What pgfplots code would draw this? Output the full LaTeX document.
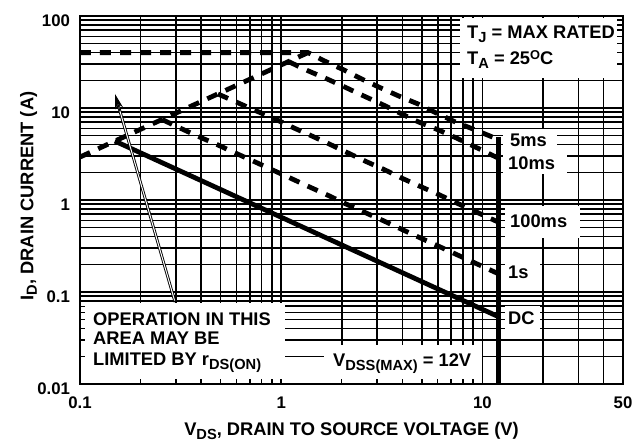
\documentclass[border=0pt]{standalone}
\usepackage{graphicx}
\usepackage{pgfplots}
\pgfplotsset{compat=1.18}
\usepackage{fontspec}
\setmainfont{Liberation Sans}
\usetikzlibrary{arrows.meta,calc}
\newcommand{\sub}[1]{\raisebox{-3.5pt}{\scalebox{0.8}{#1}}}
\newcommand{\sups}[1]{\raisebox{5pt}{\scalebox{0.7}{#1}}}
\newcommand{\lbl}{\fontsize{18.3}{20}\selectfont\bfseries}
\begin{document}
\begin{tikzpicture}[x=1pt,y=1pt]
\useasboundingbox (0,0) rectangle (636,443);
% ---------- grid and curves ----------
\begin{axis}[xmode=log, ymode=log,
    scale only axis, width=543pt, height=368pt,
    at={(80pt,59pt)}, anchor=south west,
    xmin=0.1, xmax=50, ymin=0.01, ymax=100,
    xtick={0.1,1,10,50}, ytick={0.01,0.1,1,10,100},
    minor xtick={0.2,0.3,0.4,0.5,0.6,0.7,0.8,0.9,2,3,4,5,6,7,8,9,20,30,40},
    minor ytick={0.02,0.03,0.04,0.05,0.06,0.07,0.08,0.09,0.2,0.3,0.4,0.5,0.6,0.7,0.8,0.9,2,3,4,5,6,7,8,9,20,30,40,50,60,70,80,90},
    tick pos=left,
  grid=both,
  major grid style={black, line width=1.6pt},
  minor grid style={black, line width=1.6pt},
  xticklabels={}, yticklabels={},
  major tick length=0pt, minor tick length=0pt,
  axis line style={black, line width=2pt},
]
% rDS(on) limit
\addplot[black, line width=4.8pt, dash pattern=on 11pt off 9pt] coordinates {(0.1,2.93) (1.36,40)};
% 5 ms
\addplot[black, line width=4.8pt, dash pattern=on 11pt off 9pt] coordinates {
 (0.1,40) (1.36,40) (1.63,32.7) (2.05,25.9) (2.52,20.6) (3.13,16.5) (3.84,13.5)
 (4.82,11.0) (5.92,8.8) (7.34,7.05) (9.22,5.77) (12,4.55)};
% 10 ms
\addplot[black, line width=4.8pt, dash pattern=on 11pt off 9pt] coordinates {
 (1.09,31.9) (1.33,25.9) (1.65,21.2) (2.07,16.9) (2.52,13.8) (3.16,11.0) (3.88,8.83)
 (4.82,7.05) (6.05,5.77) (7.43,4.72) (9.22,3.77) (12,2.85)};
% 100 ms
\addplot[black, line width=4.8pt, dash pattern=on 11pt off 9pt] coordinates {
 (0.485,14.2) (0.598,11.6) (0.734,9.5) (0.912,7.78) (1.13,6.21) (1.41,5.0) (1.69,4.17)
 (2.64,2.62) (3.24,2.15) (3.97,1.73) (4.93,1.40) (6.05,1.15) (7.43,0.93) (9.22,0.75) (12,0.575)};
% 1 s
\addplot[black, line width=4.8pt, dash pattern=on 11pt off 9pt] coordinates {
 (0.256,7.5) (0.302,6.3) (0.393,4.84) (0.477,4.03) (0.592,3.24) (0.734,2.62) (0.902,2.13)
 (1.13,1.70) (1.41,1.36) (1.73,1.11) (2.10,0.905) (2.64,0.723) (3.24,0.592) (3.97,0.48)
 (4.93,0.386) (6.05,0.315) (7.43,0.256) (9.22,0.206) (12,0.158)};
% DC
\addplot[black, line width=4.8pt] coordinates {(0.149,4.37) (12,0.054)};
% VDSS limit
\addplot[black, line width=5pt] coordinates {(12,0.01) (12,4.8)};
\end{axis}
% ---------- arrow ----------
\draw[black, line width=2.8pt, shorten >=10pt] (175,141) -- (115,349);
\draw[white, line width=1.0pt, shorten >=10pt, shorten <=1.5pt] (175,141) -- (115,349);
\draw[black, line width=1pt, -{Stealth[length=15pt, width=8pt]}] ($(115,349)!18pt!(175,141)$) -- (115,349);
% ---------- label boxes ----------
\fill[white] (460,365) rectangle (617,425);
\node[font=\lbl, anchor=base west, inner sep=0pt] at (467,404) {T\sub{J} = MAX RATED};
\node[font=\lbl, anchor=base west, inner sep=0pt] at (467,378) {T\sub{A} = 25\sups{O}C};
\fill[white] (503,292) rectangle (557,314);
\node[font=\lbl, anchor=base west, inner sep=0pt] at (510,296) {5ms};
\fill[white] (503,269) rectangle (567,292);
\node[font=\lbl, anchor=base west, inner sep=0pt] at (508,273) {10ms};
\fill[white] (505,205) rectangle (580,237);
\node[font=\lbl, anchor=base west, inner sep=0pt] at (510,215) {100ms};
\fill[white] (505,153) rectangle (540,187);
\node[font=\lbl, anchor=base west, inner sep=0pt] at (508,164) {1s};
\fill[white] (505,112) rectangle (540,137);
\node[font=\lbl, anchor=base west, inner sep=0pt] at (508,118) {DC};
\fill[white] (81,60) rectangle (285,140);
\node[font=\lbl, anchor=base west, inner sep=0pt] at (93,117) {OPERATION IN THIS};
\node[font=\lbl, anchor=base west, inner sep=0pt] at (93,98) {AREA MAY BE};
\node[font=\lbl, anchor=base west, inner sep=0pt] at (93,77) {LIMITED BY r\sub{DS(ON)}};
\fill[white] (324,60) rectangle (482,98);
\node[font=\lbl, anchor=base west, inner sep=0pt] at (333,76) {V\sub{DSS(MAX)} = 12V};
% ---------- ticks, frame, tick labels ----------
\begin{axis}[xmode=log, ymode=log,
    scale only axis, width=543pt, height=368pt,
    at={(80pt,59pt)}, anchor=south west,
    xmin=0.1, xmax=50, ymin=0.01, ymax=100,
    xtick={0.1,1,10,50}, ytick={0.01,0.1,1,10,100},
    minor xtick={0.2,0.3,0.4,0.5,0.6,0.7,0.8,0.9,2,3,4,5,6,7,8,9,20,30,40},
    minor ytick={0.02,0.03,0.04,0.05,0.06,0.07,0.08,0.09,0.2,0.3,0.4,0.5,0.6,0.7,0.8,0.9,2,3,4,5,6,7,8,9,20,30,40,50,60,70,80,90},
    tick pos=left,
  xticklabels={0.1,1,10,50}, yticklabels={0.01,0.1,1,10,100},
  tick align=inside, major tick length=5pt, minor tick length=5pt,
  tick style={black, line width=1.5pt},
  axis line style={black, line width=2pt},
  tick label style={font=\fontsize{16.8}{18}\selectfont\bfseries},
  xticklabel style={yshift=-9.5pt},
  yticklabel style={xshift=-6.5pt, yshift=-4.5pt},
]
\end{axis}
% ---------- axis titles ----------
\node[font=\lbl, anchor=base] at (351.5,7) {V\sub{DS}, DRAIN TO SOURCE VOLTAGE (V)};
\node[font=\lbl, anchor=base, rotate=90] at (33.3,247) {I\sub{D}, DRAIN CURRENT (A)};
\end{tikzpicture}
\end{document}
